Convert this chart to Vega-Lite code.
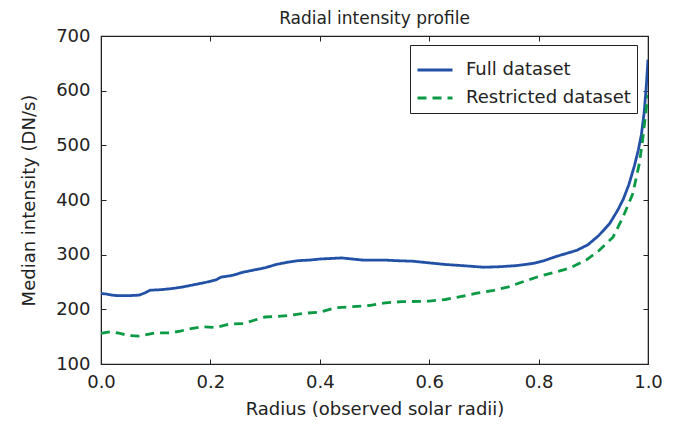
{
  "$schema": "https://vega.github.io/schema/vega-lite/v6.json",
  "autosize": "none",
  "padding": {"left": 101, "top": 36, "right": 38, "bottom": 60},
  "width": 547,
  "height": 328,
  "background": "white",
  "title": {"text": "Radial intensity profile", "fontSize": 17, "font": "DejaVu Sans", "fontWeight": "normal", "color": "#222", "offset": -1, "anchor": "middle"},
  "config": {
    "font": "DejaVu Sans",
    "view": {"stroke": "#222", "strokeWidth": 1.2},
    "axis": {"grid": false, "domainColor": "#222", "tickColor": "#222", "tickSize": -5, "labelFont": "DejaVu Sans", "labelFontSize": 18, "labelColor": "#222", "titleFont": "DejaVu Sans", "titleFontSize": 18, "titleFontWeight": "normal", "titleColor": "#222"}
  },
  "data": {"values": [
    {"r": 0.00, "v": 229, "s": "Full dataset"},
    {"r": 0.01, "v": 228, "s": "Full dataset"},
    {"r": 0.02, "v": 226, "s": "Full dataset"},
    {"r": 0.03, "v": 225, "s": "Full dataset"},
    {"r": 0.05, "v": 225, "s": "Full dataset"},
    {"r": 0.07, "v": 226, "s": "Full dataset"},
    {"r": 0.08, "v": 230, "s": "Full dataset"},
    {"r": 0.09, "v": 235, "s": "Full dataset"},
    {"r": 0.11, "v": 236, "s": "Full dataset"},
    {"r": 0.13, "v": 238, "s": "Full dataset"},
    {"r": 0.15, "v": 241, "s": "Full dataset"},
    {"r": 0.17, "v": 245, "s": "Full dataset"},
    {"r": 0.19, "v": 249, "s": "Full dataset"},
    {"r": 0.21, "v": 254, "s": "Full dataset"},
    {"r": 0.22, "v": 259, "s": "Full dataset"},
    {"r": 0.24, "v": 262, "s": "Full dataset"},
    {"r": 0.26, "v": 268, "s": "Full dataset"},
    {"r": 0.28, "v": 272, "s": "Full dataset"},
    {"r": 0.30, "v": 276, "s": "Full dataset"},
    {"r": 0.32, "v": 282, "s": "Full dataset"},
    {"r": 0.34, "v": 286, "s": "Full dataset"},
    {"r": 0.36, "v": 289, "s": "Full dataset"},
    {"r": 0.38, "v": 290, "s": "Full dataset"},
    {"r": 0.40, "v": 292, "s": "Full dataset"},
    {"r": 0.42, "v": 293, "s": "Full dataset"},
    {"r": 0.44, "v": 294, "s": "Full dataset"},
    {"r": 0.46, "v": 292, "s": "Full dataset"},
    {"r": 0.48, "v": 290, "s": "Full dataset"},
    {"r": 0.50, "v": 290, "s": "Full dataset"},
    {"r": 0.52, "v": 290, "s": "Full dataset"},
    {"r": 0.54, "v": 289, "s": "Full dataset"},
    {"r": 0.57, "v": 288, "s": "Full dataset"},
    {"r": 0.60, "v": 285, "s": "Full dataset"},
    {"r": 0.63, "v": 282, "s": "Full dataset"},
    {"r": 0.66, "v": 280, "s": "Full dataset"},
    {"r": 0.70, "v": 277, "s": "Full dataset"},
    {"r": 0.73, "v": 278, "s": "Full dataset"},
    {"r": 0.76, "v": 280, "s": "Full dataset"},
    {"r": 0.79, "v": 284, "s": "Full dataset"},
    {"r": 0.81, "v": 289, "s": "Full dataset"},
    {"r": 0.83, "v": 296, "s": "Full dataset"},
    {"r": 0.85, "v": 302, "s": "Full dataset"},
    {"r": 0.87, "v": 308, "s": "Full dataset"},
    {"r": 0.89, "v": 318, "s": "Full dataset"},
    {"r": 0.91, "v": 335, "s": "Full dataset"},
    {"r": 0.93, "v": 357, "s": "Full dataset"},
    {"r": 0.945, "v": 382, "s": "Full dataset"},
    {"r": 0.955, "v": 402, "s": "Full dataset"},
    {"r": 0.965, "v": 428, "s": "Full dataset"},
    {"r": 0.975, "v": 462, "s": "Full dataset"},
    {"r": 0.982, "v": 490, "s": "Full dataset"},
    {"r": 0.988, "v": 520, "s": "Full dataset"},
    {"r": 0.993, "v": 560, "s": "Full dataset"},
    {"r": 0.997, "v": 610, "s": "Full dataset"},
    {"r": 1.0, "v": 657, "s": "Full dataset"},
    {"r": 0.00, "v": 156, "s": "Restricted dataset"},
    {"r": 0.01, "v": 158, "s": "Restricted dataset"},
    {"r": 0.02, "v": 159, "s": "Restricted dataset"},
    {"r": 0.035, "v": 156, "s": "Restricted dataset"},
    {"r": 0.05, "v": 152, "s": "Restricted dataset"},
    {"r": 0.07, "v": 151, "s": "Restricted dataset"},
    {"r": 0.09, "v": 155, "s": "Restricted dataset"},
    {"r": 0.10, "v": 157, "s": "Restricted dataset"},
    {"r": 0.125, "v": 157, "s": "Restricted dataset"},
    {"r": 0.145, "v": 160, "s": "Restricted dataset"},
    {"r": 0.16, "v": 164, "s": "Restricted dataset"},
    {"r": 0.185, "v": 168, "s": "Restricted dataset"},
    {"r": 0.21, "v": 167, "s": "Restricted dataset"},
    {"r": 0.235, "v": 173, "s": "Restricted dataset"},
    {"r": 0.26, "v": 174, "s": "Restricted dataset"},
    {"r": 0.28, "v": 180, "s": "Restricted dataset"},
    {"r": 0.30, "v": 186, "s": "Restricted dataset"},
    {"r": 0.32, "v": 187, "s": "Restricted dataset"},
    {"r": 0.345, "v": 189, "s": "Restricted dataset"},
    {"r": 0.375, "v": 193, "s": "Restricted dataset"},
    {"r": 0.40, "v": 195, "s": "Restricted dataset"},
    {"r": 0.415, "v": 199, "s": "Restricted dataset"},
    {"r": 0.43, "v": 203, "s": "Restricted dataset"},
    {"r": 0.46, "v": 205, "s": "Restricted dataset"},
    {"r": 0.49, "v": 207, "s": "Restricted dataset"},
    {"r": 0.52, "v": 212, "s": "Restricted dataset"},
    {"r": 0.55, "v": 214, "s": "Restricted dataset"},
    {"r": 0.60, "v": 215, "s": "Restricted dataset"},
    {"r": 0.63, "v": 218, "s": "Restricted dataset"},
    {"r": 0.655, "v": 223, "s": "Restricted dataset"},
    {"r": 0.685, "v": 229, "s": "Restricted dataset"},
    {"r": 0.715, "v": 234, "s": "Restricted dataset"},
    {"r": 0.745, "v": 241, "s": "Restricted dataset"},
    {"r": 0.77, "v": 250, "s": "Restricted dataset"},
    {"r": 0.80, "v": 260, "s": "Restricted dataset"},
    {"r": 0.83, "v": 268, "s": "Restricted dataset"},
    {"r": 0.856, "v": 275, "s": "Restricted dataset"},
    {"r": 0.887, "v": 290, "s": "Restricted dataset"},
    {"r": 0.911, "v": 308, "s": "Restricted dataset"},
    {"r": 0.936, "v": 332, "s": "Restricted dataset"},
    {"r": 0.954, "v": 368, "s": "Restricted dataset"},
    {"r": 0.972, "v": 411, "s": "Restricted dataset"},
    {"r": 0.984, "v": 466, "s": "Restricted dataset"},
    {"r": 0.99, "v": 508, "s": "Restricted dataset"},
    {"r": 0.997, "v": 569, "s": "Restricted dataset"},
    {"r": 1.0, "v": 592, "s": "Restricted dataset"}
  ]},
  "layer": [
    {
      "mark": {"type": "line", "strokeWidth": 2.8, "clip": true},
      "encoding": {
        "x": {"field": "r", "type": "quantitative", "scale": {"domain": [0, 1], "nice": false}, "axis": {"title": "Radius (observed solar radii)", "values": [0, 0.2, 0.4, 0.6, 0.8, 1.0], "format": ".1f", "labelPadding": 14, "titlePadding": 9, "labelFlush": false}},
        "y": {"field": "v", "type": "quantitative", "scale": {"domain": [100, 700], "nice": false, "zero": false}, "axis": {"title": "Median intensity (DN/s)", "values": [100, 200, 300, 400, 500, 600, 700], "labelPadding": 16, "titlePadding": 17}},
        "color": {"field": "s", "type": "nominal", "scale": {"domain": ["Full dataset", "Restricted dataset"], "range": ["#2251a6", "#0b9a44"]},
          "legend": {"title": null, "orient": "none", "legendX": 309, "legendY": 9, "labelFontSize": 18, "labelFont": "DejaVu Sans", "labelColor": "#222", "labelLimit": 400, "symbolType": "stroke", "symbolSize": 1225, "symbolStrokeWidth": 3, "labelOffset": 12, "padding": 6, "rowPadding": -1, "strokeColor": "#222", "fillColor": "white", "cornerRadius": 0}},
        "strokeDash": {"field": "s", "type": "nominal", "scale": {"domain": ["Full dataset", "Restricted dataset"], "range": [[1, 0], [9, 6]]}, "legend": null}
      }
    },
    {
      "mark": {"type": "line", "opacity": 0},
      "encoding": {
        "x": {"field": "r", "type": "quantitative", "axis": {"orient": "top", "title": null, "labels": false, "values": [0, 0.2, 0.4, 0.6, 0.8, 1.0]}},
        "y": {"field": "v", "type": "quantitative", "axis": {"orient": "right", "title": null, "labels": false, "values": [100, 200, 300, 400, 500, 600, 700]}},
        "detail": {"field": "s"}
      }
    }
  ],
  "resolve": {"axis": {"x": "independent", "y": "independent"}}
}
